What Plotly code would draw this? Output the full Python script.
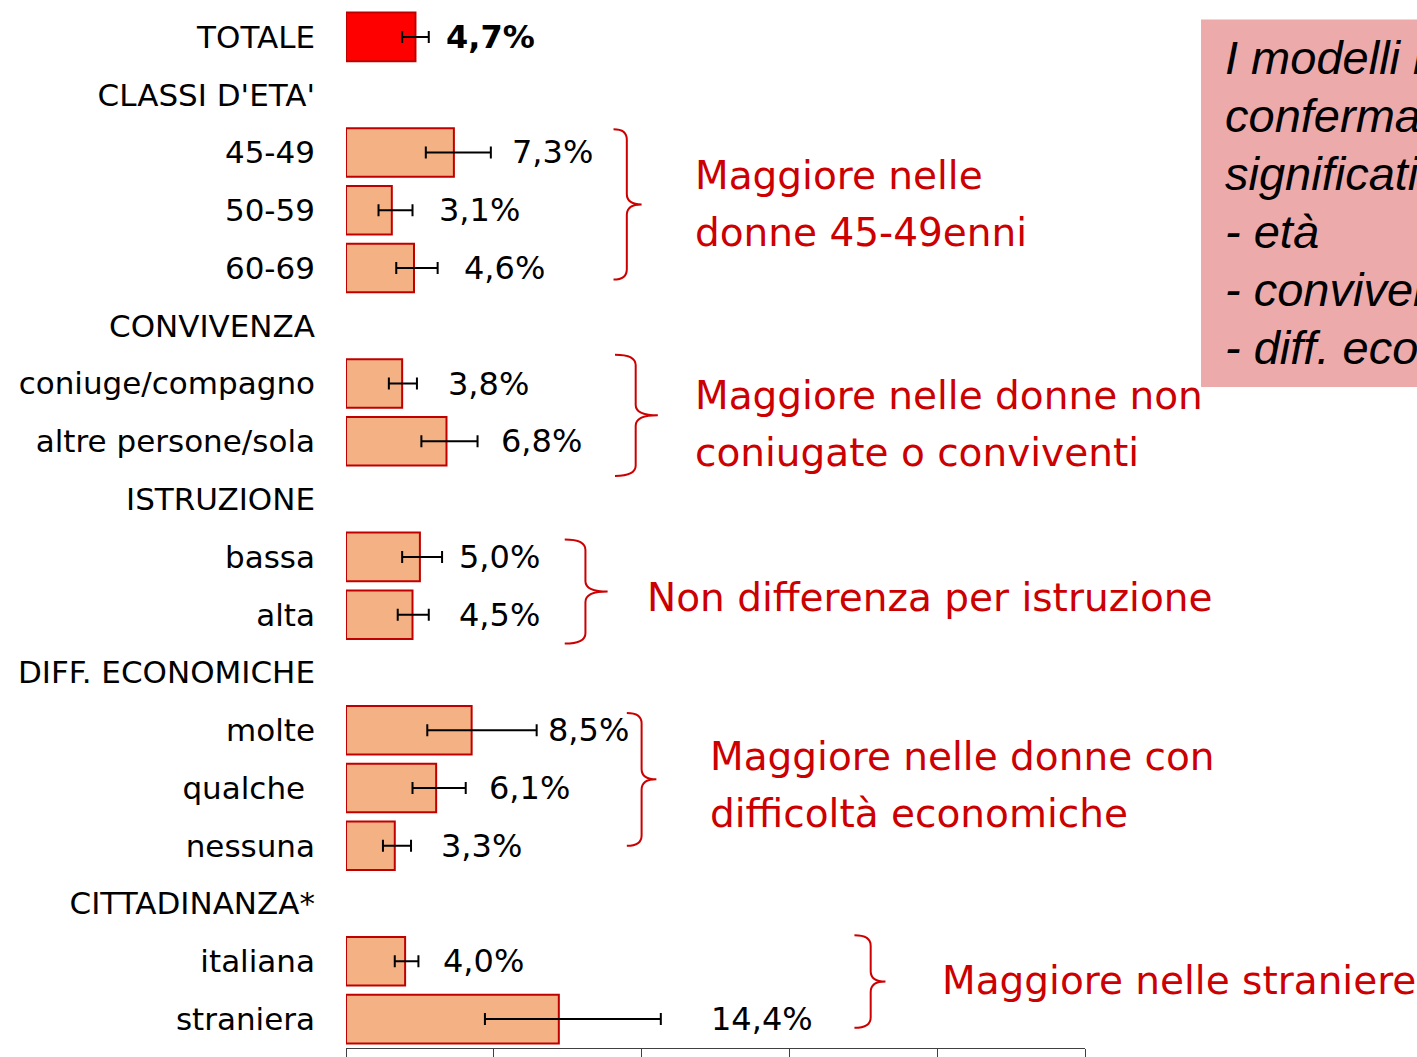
#importing modules
import plotly.graph_objects as go

#rows of the chart (group headers have no bar)
rows = ["TOTALE", "CLASSI D'ETA'", "45-49", "50-59", "60-69", "CONVIVENZA",
        "coniuge/compagno", "altre persone/sola", "ISTRUZIONE", "bassa", "alta",
        "DIFF. ECONOMICHE", "molte", "qualche\u00a0", "nessuna", "CITTADINANZA*",
        "italiana", "straniera"]
values = [4.7, None, 7.3, 3.1, 4.6, None, 3.8, 6.8, None, 5.0, 4.5, None,
          8.5, 6.1, 3.3, None, 4.0, 14.4]
ci_low = [3.8, None, 5.4, 2.2, 3.4, None, 2.9, 5.1, None, 3.8, 3.5, None,
          5.5, 4.5, 2.5, None, 3.3, 9.4]
ci_high = [5.6, None, 9.8, 4.5, 6.2, None, 4.8, 8.9, None, 6.5, 5.6, None,
           12.9, 8.1, 4.4, None, 4.9, 21.3]

#comments on the right side
notes = [
    (["Maggiore nelle", "donne 45-49enni"], 23.5, 2.4),
    (["Maggiore nelle donne non", "coniugate o conviventi"], 23.5, 6.2),
    (["Non differenza per istruzione"], 20.2, 9.7),
    (["Maggiore nelle donne con", "difficoltà economiche"], 24.5, 12.45),
    (["Maggiore nelle straniere"], 40.2, 16.33),
]
#braces: x start, x middle, x tip, y top, y bottom
braces = [
    (18.1, 19.0, 20.0, 1.6, 4.2),
    (18.2, 19.6, 21.1, 5.5, 7.6),
    (14.8, 16.2, 17.7, 8.7, 10.5),
    (19.0, 20.0, 21.0, 11.7, 14.0),
    (34.4, 35.5, 36.5, 15.55, 17.15),
]
box_lines = ["I modelli logistici", "confermano la", "significatività di:",
             "- età", "- convivenza", "- diff. economiche"]

label_shift = [15, 0, 19, 24, 24, 0, 29, 21, 0, 15, 28, 0, 9, 21, 28, 0, 23, 48]

ypos = list(range(len(rows)))
font = "DejaVu Sans"
red = "#CC0000"

colors = ["#FF0000"] + ["#F4B183"] * (len(rows) - 1)
err_plus = [None if v is None else h - v for v, h in zip(values, ci_high)]
err_minus = [None if v is None else v - l for v, l in zip(values, ci_low)]

fig = go.Figure()
fig.add_trace(go.Bar(
    x=values, y=ypos, orientation="h", width=0.84,
    marker=dict(color=colors, line=dict(color="#C00000", width=2)),
    error_x=dict(type="data", array=err_plus, arrayminus=err_minus,
                 color="black", thickness=2, width=6),
    hoverinfo="skip",
))

#value labels after the error bars
for i, v in enumerate(values):
    if v is None:
        continue
    txt = f"{v:.1f}%".replace(".", ",")
    if i == 0:
        txt = "<b>" + txt + "</b>"
    fig.add_annotation(x=ci_high[i], y=ypos[i], text=txt, showarrow=False,
                       xanchor="left", yanchor="middle", xshift=label_shift[i],
                       font=dict(family=font, size=32, color="black"))

for lines, x, y in notes:
    for k, line in enumerate(lines):
        fig.add_annotation(x=x, y=y + k * 0.99, text=line, showarrow=False,
                           xanchor="left", yanchor="middle",
                           font=dict(family=font, size=39, color=red))

def brace_path(x0, xm, x1, yt, yb):
    ym = (yt + yb) / 2
    c = 0.18
    return (f"M {x0},{yt} Q {xm},{yt} {xm},{yt + c} "
            f"L {xm},{ym - c} Q {xm},{ym} {x1},{ym} "
            f"Q {xm},{ym} {xm},{ym + c} "
            f"L {xm},{yb - c} Q {xm},{yb} {x0},{yb}")

for b in braces:
    fig.add_shape(type="path", path=brace_path(*b), xref="x", yref="y",
                  line=dict(color=red, width=2))

#pink box top right, one annotation per line to keep the spacing
fig.add_shape(type="rect", xref="paper", yref="paper",
              x0=1.157, x1=1.5, y0=0.6355, y1=0.989,
              fillcolor="#EDAAAA", line=dict(width=0), layer="below")
for k, line in enumerate(box_lines):
    fig.add_annotation(xref="paper", yref="paper", x=1.187, y=0.952 - k * 0.0556,
                       xanchor="left", yanchor="middle", showarrow=False,
                       text=line,
                       font=dict(family="Liberation Sans", size=47, color="black",
                                 style="italic"))

fig.update_layout(
    width=1417, height=1057,
    margin=dict(l=346, r=332, t=8, b=9),
    plot_bgcolor="white", paper_bgcolor="white",
    showlegend=False,
    font=dict(family=font, size=31, color="black"),
)
fig.update_xaxes(range=[0, 50], dtick=10, showgrid=False, zeroline=False,
                 showline=True, linecolor="#404040", linewidth=1,
                 ticks="outside", ticklen=12, tickcolor="#404040",
                 showticklabels=False, automargin=False)
fig.update_yaxes(range=[17.5, -0.5], tickvals=ypos, ticktext=rows,
                 showgrid=False, zeroline=False, showline=False, ticks="",
                 ticklabelstandoff=30, automargin=False)

#drop the default page margin so the figure fills the window
fig.write_html("out.html", config={"displayModeBar": False},
               post_script="document.body.style.margin='0';"
                           "document.body.style.overflow='hidden';")
